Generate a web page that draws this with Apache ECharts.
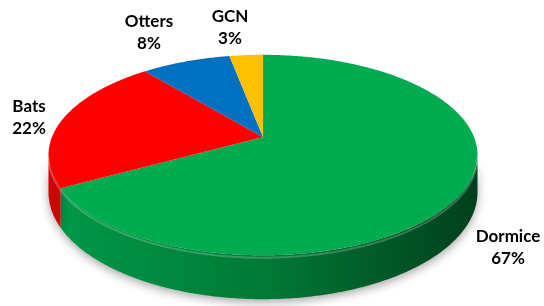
<!DOCTYPE html>
<html>
<head>
<meta charset="utf-8">
<script src="https://cdn.jsdelivr.net/npm/echarts@6/dist/echarts.min.js"></script>
<style>html,body{margin:0;padding:0;background:#fff;}#c{width:544px;height:306px;}</style>
</head>
<body>
<div id="c"></div>
<script>
// ---- data ----
const categories = ['Dormice', 'Bats', 'Otters', 'GCN'];
const values = [67, 22, 8, 3];

// ---- styles / layout ----
const topColors = ['#00AC4F', '#FF0000', '#0070C0', '#FFC000'];
const sideStops = [
  [[0, '#00994A'], [0.5, '#007A36'], [1, '#003F1C']],
  [[0, '#D00000'], [1, '#900000']],
  [[0, '#005A9A'], [1, '#003A66']],
  [[0, '#CC9A00'], [1, '#996F00']]
];
const labelPos = [[508, 248], [29, 118], [149, 33], [230, 28]];
const G = { cx: 263, cy: 137, AR: 97, BR: 211, r: 0.18, h: 36 };

const total = values.reduce((a, b) => a + b, 0);
const startFrac = [];
let acc = 0;
values.forEach(v => { startFrac.push(acc / total); acc += v; });

function proj(th, drop) {
  const s = Math.sin(th), c = Math.cos(th);
  const f = 1 / (1 - G.r * s);
  return [G.cx + G.BR * c * f, G.cy + G.AR * s * f + (drop || 0) * f];
}
function ang(frac) { return -Math.PI / 2 + frac * 2 * Math.PI; }
function arc(a0, a1, drop) {
  const pts = [];
  const n = Math.max(2, Math.ceil((a1 - a0) / 0.01));
  for (let i = 0; i <= n; i++) pts.push(proj(a0 + (a1 - a0) * i / n, drop));
  return pts;
}
const thT = Math.asin(G.r);
const visLo = thT, visHi = Math.PI - thT;

function sideItem(params, api) {
  const i = params.dataIndex;
  const a0 = ang(startFrac[i]);
  const a1 = ang(startFrac[i] + api.value(0) / total);
  const lo = Math.max(a0, visLo), hi = Math.min(a1, visHi);
  if (hi <= lo) return { type: 'group', children: [] };
  const top = arc(lo, hi, 0);
  const bot = arc(lo, hi, G.h).reverse();
  return {
    type: 'polygon',
    shape: { points: top.concat(bot) },
    style: {
      fill: { type: 'linear', x: 48, y: 0, x2: 478, y2: 0, global: true,
        colorStops: sideStops[i].map(s => ({ offset: s[0], color: s[1] })) },
      shadowBlur: 10, shadowColor: 'rgba(0,0,0,0.35)', shadowOffsetY: 3
    }
  };
}
function topItem(params, api) {
  const i = params.dataIndex;
  const v = api.value(0);
  const a0 = ang(startFrac[i]);
  const a1 = ang(startFrac[i] + v / total);
  const pts = [[G.cx, G.cy]].concat(arc(a0, a1, 0));
  const children = [{
    type: 'polygon', shape: { points: pts },
    style: { fill: topColors[i] }
  }];
  const lo = Math.max(a0, visLo), hi = Math.min(a1, visHi);
  if (hi > lo) {
    children.push({ type: 'polyline', shape: { points: arc(lo, hi, 2) },
      style: { fill: null, stroke: 'rgba(255,255,255,0.22)', lineWidth: 2 } });
  }
  children.push({
    type: 'text',
    x: labelPos[i][0], y: labelPos[i][1],
    style: {
      text: categories[i] + '\n' + Math.round(v / total * 100) + '%',
      fontFamily: 'Lato', fontWeight: 'bold', fontSize: 17, lineHeight: 22,
      fill: '#000', align: 'center', verticalAlign: 'middle'
    }
  });
  return { type: 'group', children };
}

const data = values.map((v, i) => ({ name: categories[i], value: [v, i] }));
const chart = echarts.init(document.getElementById('c'), null, { renderer: 'canvas' });
chart.setOption({
  backgroundColor: '#fff',
  animation: false,
  series: [
    { type: 'custom', coordinateSystem: 'none', renderItem: sideItem, data: data, z: 1, silent: true },
    { type: 'custom', coordinateSystem: 'none', renderItem: topItem, data: data, z: 2, silent: true }
  ]
});
</script>
</body>
</html>
